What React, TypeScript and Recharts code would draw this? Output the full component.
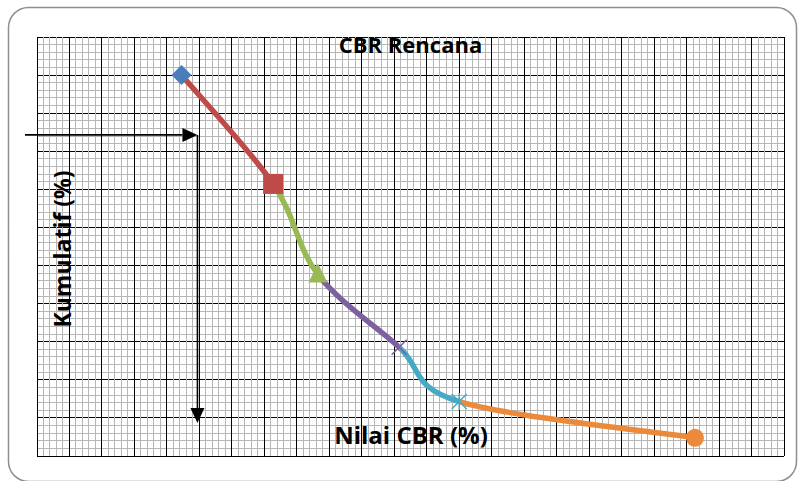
import { LineChart, Line, XAxis, YAxis, ReferenceLine } from 'recharts'

// CBR values (%) and cumulative percentage
const cbrValues = [4.45, 7.27, 8.65, 11.15, 13.0, 20.26]
const cumulativePct = [100, 71.43, 47.62, 28.57, 14.29, 4.76]

// reading of the design CBR (arrows)
const readCumulative = 84.3
const readCbr = 4.94
const arrowStartCbr = -0.37
const arrowEndCumulative = 8.66

const X_MAX = 23
const Y_MAX = 110

const xMajor = Array.from({ length: X_MAX + 1 }, (_, i) => i)
const xMinor = Array.from({ length: X_MAX * 5 + 1 }, (_, i) => i / 5)
const yMajor = Array.from({ length: Y_MAX / 10 + 1 }, (_, i) => i * 10)
const yMinor = Array.from({ length: Y_MAX / 2 + 1 }, (_, i) => i * 2)

const COLORS = ['#4A7EBB', '#BE4B48', '#98B954', '#7D60A0', '#46AAC5', '#EC8A3C']
const SHAPES = ['diamond', 'square', 'triangle', 'x', 'star', 'circle']

const data = cbrValues.map((cbr, i) => ({ cbr, kum: cumulativePct[i] }))

const FONT = '"Open Sans", "DejaVu Sans", sans-serif'
const MARGIN = { top: 37, right: 17, bottom: 25, left: 37 }

// Excel-like smoothed line (Bezier, tension 1/6)
function excelSmooth(context: any) {
  let pts: number[][] = []
  return {
    areaStart() {},
    areaEnd() {},
    lineStart() {
      pts = []
    },
    lineEnd() {
      const n = pts.length
      if (!n) return
      context.moveTo(pts[0][0], pts[0][1])
      for (let i = 0; i < n - 1; i++) {
        const p0 = pts[Math.max(i - 1, 0)]
        const p1 = pts[i]
        const p2 = pts[i + 1]
        const p3 = pts[Math.min(i + 2, n - 1)]
        context.bezierCurveTo(
          p1[0] + (p2[0] - p0[0]) / 6,
          p1[1] + (p2[1] - p0[1]) / 6,
          p2[0] - (p3[0] - p1[0]) / 6,
          p2[1] - (p3[1] - p1[1]) / 6,
          p2[0],
          p2[1]
        )
      }
    },
    point(x: number, y: number) {
      pts.push([+x, +y])
    },
  }
}

// grid lines snapped to the pixel grid so 1px lines stay crisp
const snap = (v: number) => Math.floor(v) + 0.5
function gridLine(color: string) {
  return (p: any) => {
    const horizontal = Math.abs(p.y1 - p.y2) < 0.01
    const x1 = horizontal ? p.x1 : snap(p.x1)
    const x2 = horizontal ? p.x2 : snap(p.x2)
    const y1 = horizontal ? snap(p.y1) : p.y1
    const y2 = horizontal ? snap(p.y2) : p.y2
    return <line x1={x1} y1={y1} x2={x2} y2={y2} stroke={color} strokeWidth={1} />
  }
}
const minorLine = gridLine('#b6b6b6')
const majorLine = gridLine('#000')

function Marker(props: any) {
  const { cx, cy, index } = props
  const c = COLORS[index]
  const key = `m-${index}`
  switch (SHAPES[index]) {
    case 'diamond':
      return <polygon key={key} points={`${cx},${cy - 10} ${cx + 10},${cy} ${cx},${cy + 10} ${cx - 10},${cy}`} fill={c} />
    case 'square':
      return <rect key={key} x={cx - 10} y={cy - 10} width={20} height={20} fill={c} />
    case 'triangle':
      return <polygon key={key} points={`${cx},${cy - 11} ${cx + 9.5},${cy + 8} ${cx - 9.5},${cy + 8}`} fill={c} />
    case 'x':
      return (
        <g key={key} stroke={c} strokeWidth={1.5}>
          <line x1={cx - 7.5} y1={cy - 7.5} x2={cx + 7.5} y2={cy + 7.5} />
          <line x1={cx - 7.5} y1={cy + 7.5} x2={cx + 7.5} y2={cy - 7.5} />
        </g>
      )
    case 'star':
      return (
        <g key={key} stroke={c} strokeWidth={1.5}>
          <line x1={cx - 7.5} y1={cy - 7.5} x2={cx + 7.5} y2={cy + 7.5} />
          <line x1={cx - 7.5} y1={cy + 7.5} x2={cx + 7.5} y2={cy - 7.5} />
          <line x1={cx} y1={cy - 8.5} x2={cx} y2={cy + 8.5} />
        </g>
      )
    default:
      return <circle key={key} cx={cx} cy={cy} r={9} fill={c} />
  }
}

function Arrow(props: any) {
  const { x1, y1, x2, y2 } = props
  const dx = x2 - x1
  const dy = y2 - y1
  const len = Math.sqrt(dx * dx + dy * dy) || 1
  const ux = dx / len
  const uy = dy / len
  const hl = 15
  const hw = 7
  const bx = x2 - ux * hl
  const by = y2 - uy * hl
  return (
    <g>
      <line x1={x1} y1={y1} x2={bx} y2={by} stroke="#000" strokeWidth={1.6} />
      <polygon
        points={`${x2},${y2} ${bx - uy * hw},${by + ux * hw} ${bx + uy * hw},${by - ux * hw}`}
        fill="#000"
      />
    </g>
  )
}

export default function App() {
  const x0 = cbrValues[0]
  const span = cbrValues[cbrValues.length - 1] - x0
  const stops: any[] = []
  for (let k = 0; k < cbrValues.length - 1; k++) {
    const a = (cbrValues[k] - x0) / span
    const b = (cbrValues[k + 1] - x0) / span
    stops.push(<stop key={`a${k}`} offset={a} stopColor={COLORS[k + 1]} />)
    stops.push(<stop key={`b${k}`} offset={b} stopColor={COLORS[k + 1]} />)
  }

  return (
    <div style={{ position: 'absolute', left: 0, top: 0, width: 801, height: 481, background: '#fff' }}>
      {/* grid layer */}
      <div style={{ position: 'absolute', left: 0, top: 0 }}>
        <LineChart width={801} height={481} data={data} margin={MARGIN}>
          <XAxis type="number" dataKey="cbr" domain={[0, X_MAX]} hide />
          <YAxis type="number" domain={[0, Y_MAX]} hide />
          <Line dataKey="kum" stroke="none" dot={false} activeDot={false} isAnimationActive={false} />
          {yMinor.map((v) => (
            <ReferenceLine key={`ym${v}`} y={v} ifOverflow="visible" shape={minorLine} />
          ))}
          {yMajor.map((v) => (
            <ReferenceLine key={`yM${v}`} y={v} ifOverflow="visible" shape={majorLine} />
          ))}
          {xMinor.map((v) => (
            <ReferenceLine key={`xm${v}`} x={v} ifOverflow="visible" shape={minorLine} />
          ))}
          {xMajor.map((v) => (
            <ReferenceLine key={`xM${v}`} x={v} ifOverflow="visible" shape={majorLine} />
          ))}
        </LineChart>
      </div>
      {/* data layer */}
      <div style={{ position: 'absolute', left: 0, top: 0 }}>
        <LineChart width={801} height={481} data={data} margin={MARGIN}>
          <XAxis type="number" dataKey="cbr" domain={[0, X_MAX]} hide />
          <YAxis type="number" domain={[0, Y_MAX]} hide />
          <Line
            type={excelSmooth as any}
            dataKey="kum"
            stroke="url(#cbrSegments)"
            strokeWidth={5.5}
            dot={Marker}
            activeDot={false}
            isAnimationActive={false}
          />
          <ReferenceLine
            segment={[
              { x: arrowStartCbr, y: readCumulative },
              { x: readCbr, y: readCumulative },
            ]}
            ifOverflow="visible"
            shape={Arrow}
          />
          <ReferenceLine
            segment={[
              { x: readCbr, y: readCumulative },
              { x: readCbr, y: arrowEndCumulative },
            ]}
            ifOverflow="visible"
            shape={Arrow}
          />
        </LineChart>
      </div>
      <svg
        width={801}
        height={481}
        style={{ position: 'absolute', left: 0, top: 0, pointerEvents: 'none' }}
      >
        <defs>
          <linearGradient id="cbrSegments" x1="0" y1="0" x2="1" y2="0">
            {stops}
          </linearGradient>
        </defs>
        <rect x={8.5} y={7.5} width={788} height={474} rx={20} fill="none" stroke="#8f8f8f" strokeWidth={1.5} />
        <text x={410.5} y={53} textAnchor="middle" fontFamily={FONT} fontWeight="bold" fontSize={22} fill="#000">
          CBR Rencana
        </text>
        <text x={411} y={444} textAnchor="middle" fontFamily={FONT} fontWeight="bold" fontSize={24} fill="#000">
          Nilai CBR (%)
        </text>
        <text
          transform="translate(71, 249) rotate(-90)"
          textAnchor="middle"
          fontFamily={FONT}
          fontWeight="bold"
          fontSize={23}
          fill="#000"
        >
          Kumulatif (%)
        </text>
      </svg>
    </div>
  )
}
